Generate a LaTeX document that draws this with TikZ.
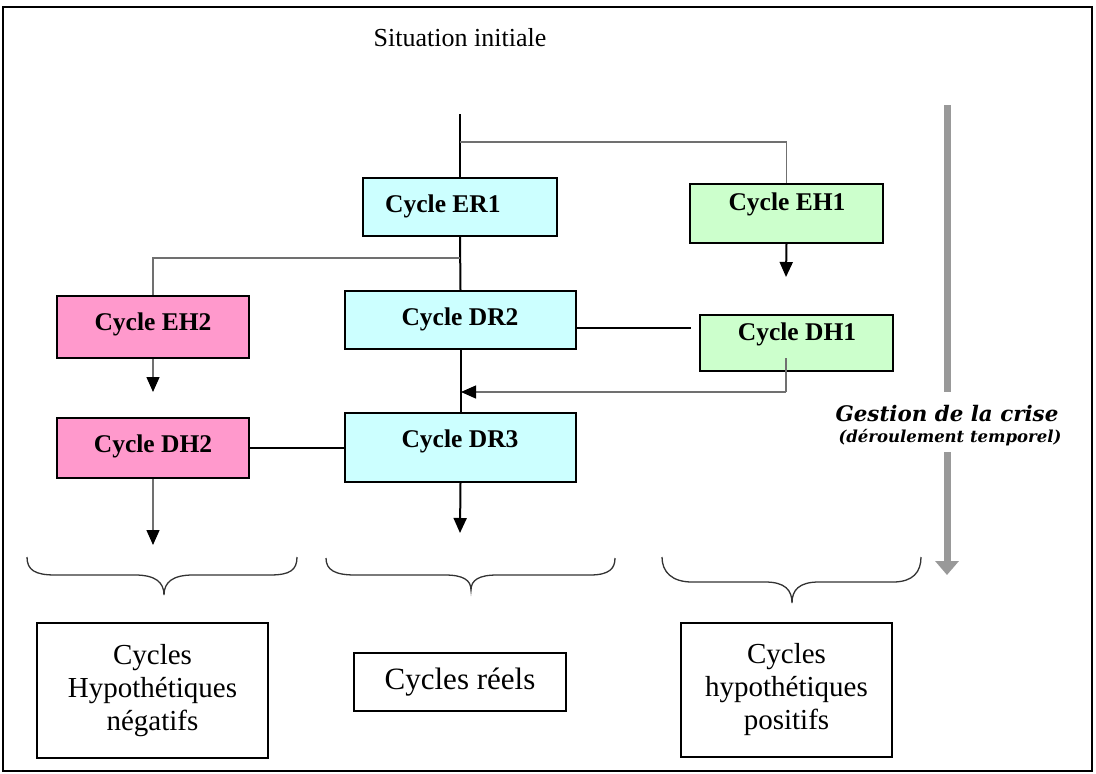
\documentclass[tikz,border=0pt]{standalone}
\usepackage{fontspec}
\setmainfont{Liberation Serif}
\newfontfamily\gfont{DejaVu Serif}
\usetikzlibrary{arrows.meta}
\definecolor{cyanbox}{HTML}{CCFFFF}
\definecolor{greenbox}{HTML}{CCFFCC}
\definecolor{pinkbox}{HTML}{FF99CC}
\definecolor{timegray}{HTML}{999999}
\definecolor{thingray}{HTML}{707070}
\tikzset{
  cbox/.style={draw=black, line width=2pt, inner sep=0pt},
  lbl/.style={inner sep=0pt, anchor=base, font=\bfseries\fontsize{25.5}{28}\selectfont},
  resbox/.style={draw=black, line width=2pt, inner sep=0pt, align=center, font=\fontsize{29}{33}\selectfont},
  thick line/.style={line width=2pt, black},
  thin line/.style={line width=1.3pt, thingray},
  tip/.style={-{Triangle[length=15pt,width=13pt,color=black]}},
  bracestyle/.style={line width=1.3pt, black!80},
}
\begin{document}
\begin{tikzpicture}[x=1pt,y=-1pt]
\useasboundingbox (0,0) rectangle (1096,774);
\draw[line width=2pt] (3,7) rectangle (1092,771);

\node[inner sep=0pt, anchor=base, font=\fontsize{26}{30}\selectfont] (init) at (460,46) {Situation initiale};

% boxes
\node[cbox, fill=cyanbox, minimum width=194pt, minimum height=58pt] (ER1) at (460,207) {};
\node[cbox, fill=greenbox, minimum width=193pt, minimum height=59pt] (EH1) at (786.5,213.5) {};
\node[cbox, fill=pinkbox, minimum width=192pt, minimum height=62pt] (EH2) at (153,327) {};
\node[cbox, fill=cyanbox, minimum width=231pt, minimum height=58pt] (DR2) at (460.5,320) {};
\node[cbox, fill=greenbox, minimum width=193pt, minimum height=56pt] (DH1) at (796.5,343) {};
\node[cbox, fill=pinkbox, minimum width=192pt, minimum height=60pt] (DH2) at (153,448) {};
\node[cbox, fill=cyanbox, minimum width=231pt, minimum height=69pt] (DR3) at (460.5,447.5) {};

\node[lbl, anchor=base west] (tER1) at (385,212) {Cycle ER1};
\node[lbl] (tEH1) at (787,210) {Cycle EH1};
\node[lbl] (tEH2) at (153,330) {Cycle EH2};
\node[lbl] (tDR2) at (460,325) {Cycle DR2};
\node[lbl] (tDH1) at (797,340) {Cycle DH1};
\node[lbl] (tDH2) at (153,452) {Cycle DH2};
\node[lbl] (tDR3) at (460,447) {Cycle DR3};

% coordinates
\coordinate (start) at (460,114);
\coordinate (br1) at (460,142);
\coordinate (br2) at (460,258);
\coordinate (eh1end) at (786,277);
\coordinate (dr2end) at (691,328);
\coordinate (dh1in) at (786,358);
\coordinate (dh1turn) at (786,392);
\coordinate (mainin) at (461,392);
\coordinate (eh2end) at (153,392);
\coordinate (dh2end) at (153,545);
\coordinate (dr3end) at (460,533);

% connectors
\draw[thick line] (start) -- (ER1.north);
\draw[thin line] (br1) -| (EH1.north);
\draw[thick line] (ER1.south) -- (DR2.north);
\draw[thin line] (br2) -| (EH2.north);
\draw[thick line, tip] (EH1.south) -- (eh1end);
\draw[thick line] (DR2.east |- dr2end) -- (dr2end);
\draw[thin line] (dh1in) -- (dh1turn);
\draw[thin line, tip] (dh1turn) -- (mainin);
\draw[thick line] (DR2.south) -- (DR3.north);
\draw[thin line, tip] (EH2.south) -- (eh2end);
\draw[thick line] (DH2.east) -- (DH2.east -| DR3.west);
\draw[thin line, tip] (DH2.south) -- (dh2end);
\draw[thick line, tip] (DR3.south) -- (dr3end);

% time arrow
\node[inner sep=0pt, anchor=base, font=\gfont\bfseries\itshape\fontsize{21.4}{24}\selectfont] (gestion) at (947,421) {Gestion de la crise};
\node[inner sep=0pt, anchor=base, font=\gfont\bfseries\itshape\fontsize{16.5}{19}\selectfont] (deroul) at (950,442) {(déroulement temporel)};
\coordinate (gtop) at (947,105);
\coordinate (gmid1) at (947,392);
\coordinate (gmid2) at (947,452);
\coordinate (gbot) at (947,575);
\draw[line width=7pt, timegray] (gtop) -- (gmid1);
\draw[line width=7pt, timegray, -{Triangle[length=14pt,width=23pt]}] (gmid2) -- (gbot);

% braces
\draw[bracestyle] (27,557) .. controls (27,570) and (35,575) .. (55,575) -- (135,575) .. controls (155,575) and (164,582) .. (164,595) .. controls (164,582) and (173,575) .. (193,575) -- (270,575) .. controls (290,575) and (297,570) .. (297,557);
\draw[bracestyle] (326,558) .. controls (326,570) and (335,575) .. (355,575) -- (445,575) .. controls (463,575) and (471,580) .. (471,590) .. controls (471,580) and (479,575) .. (497,575) -- (590,575) .. controls (610,575) and (615,568) .. (615,558);
\draw[bracestyle] (662,557) .. controls (662,572) and (672,582) .. (692,582) -- (765,582) .. controls (785,582) and (792,590) .. (792,603) .. controls (792,590) and (799,582) .. (819,582) -- (893,582) .. controls (913,582) and (921,572) .. (921,557);

% result boxes
\node[resbox, minimum width=231pt, minimum height=135pt] (neg) at (152.5,690.5) {Cycles\\Hypothétiques\\négatifs};
\node[resbox, minimum width=212pt, minimum height=58pt, font=\fontsize{31}{35}\selectfont] (reel) at (460,682) {Cycles réels};
\node[resbox, minimum width=211pt, minimum height=134pt] (pos) at (786.5,690) {Cycles\\hypothétiques\\positifs};
\end{tikzpicture}
\end{document}
